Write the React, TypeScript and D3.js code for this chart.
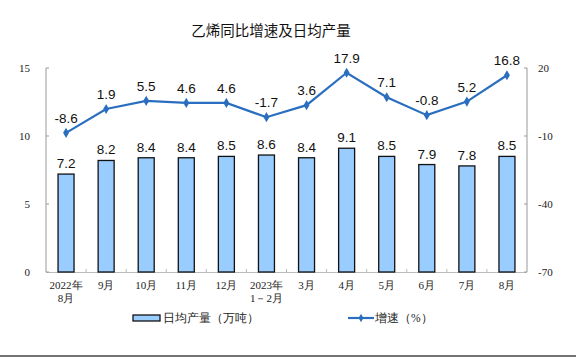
import React from "react";
import * as d3 from "d3";

const categories = ["2022年\n8月", "9月", "10月", "11月", "12月", "2023年\n1－2月", "3月", "4月", "5月", "6月", "7月", "8月"];
const output = [7.2, 8.2, 8.4, 8.4, 8.5, 8.6, 8.4, 9.1, 8.5, 7.9, 7.8, 8.5];
const growth = [-8.6, 1.9, 5.5, 4.6, 4.6, -1.7, 3.6, 17.9, 7.1, -0.8, 5.2, 16.8];
const leftTicks = [0, 5, 10, 15];
const rightTicks = [-70, -40, -10, 20];

const W = 576, H = 357;
const L = 46, R = 527, T = 68, B = 272;
const serif = "'Liberation Serif', 'Times New Roman', serif";
const sans = "'Liberation Sans', Arial, 'Noto Sans CJK SC', sans-serif";
const cjk = "'Noto Sans CJK SC', sans-serif";
const lineColor = "#2a6ebf";

export default function App() {
  const x = d3.scaleBand<number>().domain(d3.range(categories.length)).range([L, R]);
  const yL = d3.scaleLinear().domain([0, 15]).range([B, T]);
  const yR = d3.scaleLinear().domain([-70, 20]).range([B, T]);
  const bw = 16;
  const cx = (i: number) => (x(i) as number) + x.bandwidth() / 2;
  const line = d3.line<number>().x((_, i) => cx(i)).y((d) => yR(d));
  const diamond = d3.symbol().type(d3.symbolDiamond).size(30)();

  return (
    <svg width={W} height={H} style={{ position: "absolute", left: 0, top: 0, background: "#fff" }}>
      <text x={271} y={36} textAnchor="middle" fontFamily={cjk} fontSize={14.5} fill="#111">乙烯同比增速及日均产量</text>
      {/* axes */}
      <line x1={L} x2={L} y1={T} y2={B} stroke="#999" />
      <line x1={R} x2={R} y1={T} y2={B} stroke="#999" />
      <line x1={L} x2={R} y1={B + 0.5} y2={B + 0.5} stroke="#bbb" />
      {leftTicks.map((t) => (
        <g key={"l" + t}>
          <line x1={L} x2={L + 3} y1={yL(t)} y2={yL(t)} stroke="#999" />
          <text x={30} y={yL(t) + 4} textAnchor="end" fontFamily={serif} fontSize={11} fill="#222">{t}</text>
        </g>
      ))}
      {rightTicks.map((t) => (
        <g key={"r" + t}>
          <line x1={R - 3} x2={R} y1={yR(t)} y2={yR(t)} stroke="#999" />
          <text x={538} y={yR(t) + 4} textAnchor="start" fontFamily={serif} fontSize={11} fill="#222">{t}</text>
        </g>
      ))}
      {d3.range(1, categories.length).map((i) => (
        <line key={"xt" + i} x1={x(i) as number} x2={x(i) as number} y1={B} y2={B - 3} stroke="#bbb" />
      ))}
      {/* bars */}
      {output.map((v, i) => (
        <g key={"b" + i}>
          <rect x={cx(i) - bw / 2} y={yL(v)} width={bw} height={B - yL(v)} fill="#99ccff" stroke="#111" strokeWidth={1.3} />
          <text x={cx(i)} y={yL(v) - 6} textAnchor="middle" fontFamily={sans} fontSize={13.5} fill="#111">{v.toFixed(1)}</text>
        </g>
      ))}
      {/* line */}
      <path d={line(growth) as string} fill="none" stroke={lineColor} strokeWidth={2.2} />
      {growth.map((v, i) => (
        <g key={"p" + i}>
          <path d={diamond as string} transform={`translate(${cx(i)},${yR(v)})`} fill={lineColor} />
          <text x={cx(i)} y={yR(v) - 10} textAnchor="middle" fontFamily={sans} fontSize={13.5} fill="#111">{v.toFixed(1)}</text>
        </g>
      ))}
      {/* x labels */}
      {categories.map((c, i) => (
        <text key={"x" + i} x={cx(i)} y={289} textAnchor="middle" fontFamily={serif} fontSize={11} fill="#222">
          {c.split("\n").map((s, j) => (
            <tspan key={j} x={cx(i)} dy={j === 0 ? 0 : 12.5}>{s}</tspan>
          ))}
        </text>
      ))}
      {/* legend */}
      <rect x={133} y={315} width={27} height={6} fill="#99ccff" stroke="#111" strokeWidth={1.3} />
      <text x={163} y={322} fontFamily={serif} fontSize={11.5} fill="#222">日均产量（万吨）</text>
      <line x1={348} x2={374} y1={318} y2={318} stroke={lineColor} strokeWidth={2.2} />
      <path d={d3.symbol().type(d3.symbolDiamond).size(20)() as string} transform="translate(361,318)" fill={lineColor} />
      <text x={375} y={322} fontFamily={serif} fontSize={11.5} fill="#222">增速（%）</text>
      <line x1={0} x2={W} y1={356} y2={356} stroke="#444" strokeWidth={1.5} />
    </svg>
  );
}
